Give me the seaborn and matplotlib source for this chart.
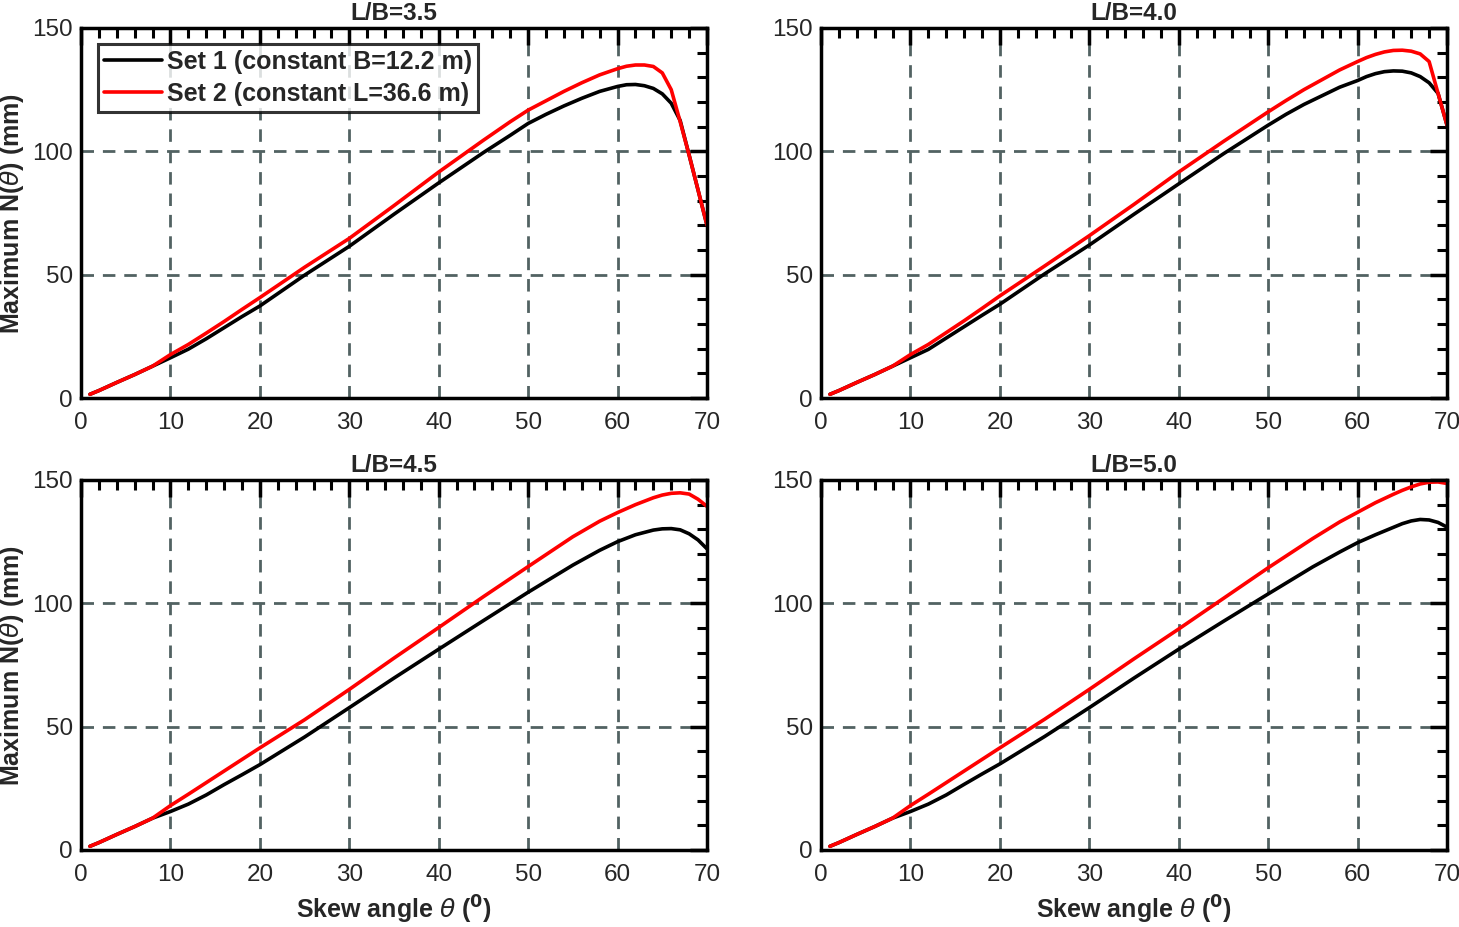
import numpy as np
import pandas as pd
import matplotlib
matplotlib.use("Agg")
import matplotlib.pyplot as plt
from matplotlib.ticker import MultipleLocator
import seaborn as sns

sns.set_theme(style="white")
plt.rcParams['font.family'] = ['Liberation Sans', 'DejaVu Sans']
plt.rcParams['mathtext.fontset'] = 'dejavusans'

titles = ["L/B=3.5", "L/B=4.0", "L/B=4.5", "L/B=5.0"]
series_names = ["Set 1 (constant B=12.2 m)", "Set 2 (constant L=36.6 m)"]

# L/B = 3.5
x_35 = [1, 2, 4, 6, 8, 10, 12, 14, 16, 18, 20, 25, 30, 35, 40, 45, 48, 50, 52, 54, 56, 58, 60, 61, 62, 63, 64, 65, 66, 67, 68, 69, 70]
set1_35 = [1.5, 3, 6.3, 9.5, 12.9, 16.3, 19.8, 24, 28.5, 33, 37.3, 49.8, 61.5, 74.5, 87.2, 99.5, 106.5, 111.3, 115, 118.4, 121.5, 124.3, 126.3, 127.0, 127.1, 126.6, 125.5, 123.3, 119.5, 112.5, 98.5, 84.3, 70]
set2_35 = [1.5, 3, 6.3, 9.5, 12.9, 17.6, 21.7, 26.3, 31, 35.9, 40.7, 53, 64.7, 78, 91.6, 104.5, 112, 116.7, 120.5, 124.3, 127.8, 131, 133.5, 134.5, 135, 135, 134.4, 131.8, 125, 112, 98.5, 84.3, 70]

# L/B = 4.0
x_40 = [1, 2, 4, 6, 8, 10, 12, 14, 16, 18, 20, 25, 30, 35, 40, 45, 50, 52, 54, 56, 58, 60, 61, 62, 63, 64, 65, 66, 67, 68, 69, 70]
set1_40 = [1.5, 3, 6.3, 9.5, 12.9, 16.3, 19.7, 24.3, 28.9, 33.5, 38, 50.3, 62, 74.5, 86.8, 99, 110.6, 115, 119, 122.5, 126, 128.7, 130.3, 131.5, 132.3, 132.6, 132.5, 131.8, 130.3, 127.8, 123.5, 110.6]
set2_40 = [1.5, 3, 6.3, 9.5, 12.9, 17.6, 21.7, 26.5, 31.3, 36.3, 41.4, 53.5, 65.8, 78.5, 91.6, 104, 116, 120.6, 125, 129, 133, 136.4, 138, 139.3, 140.3, 140.9, 141, 140.6, 139.5, 136.4, 123.5, 110.6]

# L/B = 4.5
x_45 = [1, 2, 4, 6, 8, 10, 12, 14, 16, 18, 20, 25, 30, 35, 40, 45, 50, 55, 58, 60, 62, 64, 65, 66, 67, 68, 69, 70]
set1_45 = [1.5, 3, 6.3, 9.5, 12.9, 15.6, 18.6, 22.3, 26.5, 30.5, 34.6, 45.8, 57.7, 69.7, 81.4, 93, 104.5, 115.5, 121.5, 125, 127.8, 129.7, 130.2, 130.3, 129.8, 128.2, 125.7, 122.1]
set2_45 = [1.5, 3, 6.3, 9.5, 12.9, 18, 22.6, 27.3, 32, 36.7, 41.4, 52.8, 65.1, 77.8, 90.2, 102.7, 114.9, 127, 133.3, 136.8, 140, 142.8, 143.9, 144.6, 144.8, 144.3, 142.2, 139.3]

# L/B = 5.0
x_50 = [1, 2, 4, 6, 8, 10, 12, 14, 16, 18, 20, 25, 30, 35, 40, 45, 50, 55, 58, 60, 62, 64, 65, 66, 67, 68, 69, 70]
set1_50 = [1.5, 3, 6.3, 9.5, 12.9, 15.6, 18.6, 22.3, 26.6, 30.8, 34.9, 46, 57.7, 69.7, 81.4, 92.7, 103.8, 114.8, 120.8, 124.6, 127.8, 130.8, 132.3, 133.4, 134, 133.8, 132.8, 130.9]
set2_50 = [1.5, 3, 6.3, 9.5, 12.9, 18, 22.6, 27.3, 32, 36.7, 41.4, 53, 65.1, 77.5, 89.6, 102, 114.4, 126.3, 133, 136.9, 140.8, 144.2, 145.8, 147.2, 148.4, 149.1, 149.2, 148.6]

panels = [(x_35, set1_35, set2_35), (x_40, set1_40, set2_40),
          (x_45, set1_45, set2_45), (x_50, set1_50, set2_50)]

W, H = 1459, 927
fig = plt.figure(figsize=(W / 100, H / 100), dpi=100)
lefts = [81, 821]
tops = [28, 480]
aw, ah = 626, 370

palette = {series_names[0]: "black", series_names[1]: "#ff0000"}

for i, (xs, s1, s2) in enumerate(panels):
    r, c = divmod(i, 2)
    ax = fig.add_axes([lefts[c] / W, 1 - (tops[r] + ah) / H, aw / W, ah / H])
    df = pd.DataFrame({
        "theta": list(xs) + list(xs),
        "N": list(s1) + list(s2),
        "Set": [series_names[0]] * len(xs) + [series_names[1]] * len(xs),
    })
    ax.grid(True, which='major', linestyle=(0, (4.5, 3.2)), color='#526262', linewidth=2.0)
    ax.set_axisbelow(True)
    sns.lineplot(data=df, x="theta", y="N", hue="Set", palette=palette,
                 estimator=None, sort=False, linewidth=2.6, ax=ax,
                 legend=(i == 0))
    ax.set_xlim(0, 70)
    ax.set_ylim(0, 150)
    ax.xaxis.set_major_locator(MultipleLocator(10))
    ax.xaxis.set_minor_locator(MultipleLocator(2))
    ax.yaxis.set_major_locator(MultipleLocator(50))
    ax.yaxis.set_minor_locator(MultipleLocator(10))
    ax.tick_params(which='both', direction='in', top=True, right=True,
                   color='black', labelsize=17.5)
    ax.tick_params(axis='x', which='both', pad=10)
    ax.tick_params(axis='y', which='both', pad=6)
    ax.tick_params(which='major', length=12, width=2.5)
    ax.tick_params(which='minor', length=7, width=2.2)
    for sp in ax.spines.values():
        sp.set_linewidth(2.5)
        sp.set_color('black')
    ax.set_title(titles[i], fontsize=17.5, fontweight='bold', pad=6)
    if c == 0:
        ax.set_ylabel(r"Maximum N($\theta$) (mm)", fontsize=18, fontweight='bold', labelpad=4)
    else:
        ax.set_ylabel("")
    if r == 1:
        ax.set_xlabel(r"Skew angle $\theta$ ($^{\mathbf{0}}$)", fontsize=18, fontweight='bold', labelpad=6)
    else:
        ax.set_xlabel("")
    if i == 0:
        leg = ax.legend(loc='upper left', bbox_to_anchor=(0.027, 0.957), borderaxespad=0,
                        fontsize=18, frameon=True, fancybox=False, edgecolor='black',
                        handlelength=2.3, handletextpad=0.2, borderpad=0.25,
                        labelspacing=0.3, title=None)
        leg.get_frame().set_linewidth(2.2)
        for t in leg.get_texts():
            t.set_fontweight('bold')
        for l in leg.get_lines():
            l.set_linewidth(2.6)

fig.savefig("out.png", dpi=100, facecolor='white')
